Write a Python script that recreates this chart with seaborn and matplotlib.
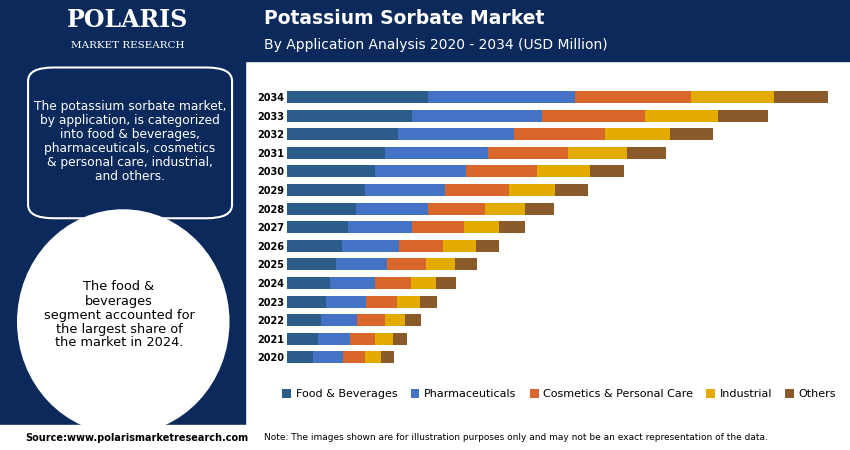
import matplotlib
matplotlib.use("Agg")
import matplotlib.pyplot as plt
import seaborn as sns
import pandas as pd
import numpy as np
from matplotlib.patches import FancyBboxPatch, Rectangle, Ellipse

years = [str(y) for y in range(2020, 2035)]
food = [26, 30, 33, 38, 42, 48, 54, 60, 68, 77, 87, 97, 110, 124, 140]
pharma = [29, 32, 36, 40, 45, 51, 57, 64, 72, 80, 90, 102, 115, 129, 146]
cosm = [22, 25, 28, 31, 36, 39, 44, 51, 56, 63, 71, 80, 90, 102, 115]
indus = [16, 18, 20, 23, 25, 28, 32, 35, 40, 46, 52, 58, 65, 73, 82]
others = [13, 14, 16, 17, 19, 22, 23, 26, 29, 32, 34, 39, 43, 49, 54]
series = ["Food & Beverages", "Pharmaceuticals", "Cosmetics & Personal Care", "Industrial", "Others"]
colors = ["#2c5d8a", "#4472c4", "#d9662a", "#e3ab00", "#8b5a2b"]

navy = "#0b2a5b"
fig = plt.figure(figsize=(8.5, 4.5), dpi=100)
fig.patch.set_facecolor("white")
fig.add_artist(Rectangle((0, 0.865), 1, 0.135, transform=fig.transFigure, color=navy, zorder=0))
fig.add_artist(Rectangle((0, 0.055), 0.288, 0.945, transform=fig.transFigure, color=navy, zorder=0))
fig.add_artist(Rectangle((0, 0), 1, 0.055, transform=fig.transFigure, color="white", zorder=0))
fig.add_artist(FancyBboxPatch((0.033, 0.515), 0.24, 0.335, boxstyle="round,pad=0,rounding_size=0.03",
                              transform=fig.transFigure, facecolor=navy, edgecolor="white", lw=1.5, zorder=1))
fig.add_artist(Ellipse((0.145, 0.285), 0.25, 0.5, transform=fig.transFigure, facecolor="white", zorder=1))

fig.text(0.15, 0.955, "POLARIS", color="white", fontsize=17, fontweight="bold", ha="center", va="center", family="DejaVu Serif")
fig.text(0.15, 0.9, "MARKET RESEARCH", color="white", fontsize=7.5, ha="center", va="center", family="DejaVu Serif")
fig.text(0.31, 0.96, "Potassium Sorbate Market", color="white", fontsize=13.5, fontweight="bold", va="center")
fig.text(0.31, 0.9, "By Application Analysis 2020 - 2034 (USD Million)", color="white", fontsize=10, va="center")
fig.text(0.153, 0.685, "The potassium sorbate market,\nby application, is categorized\ninto food & beverages,\npharmaceuticals, cosmetics\n& personal care, industrial,\nand others.",
         color="white", fontsize=8.8, ha="center", va="center", linespacing=1.1)
fig.text(0.14, 0.3, "The food &\nbeverages\nsegment accounted for\nthe largest share of\nthe market in 2024.",
         color="black", fontsize=9.3, ha="center", va="center", linespacing=1.1)
fig.text(0.03, 0.027, "Source:www.polarismarketresearch.com", fontsize=7, fontweight="bold", va="center")
fig.text(0.31, 0.027, "Note: The images shown are for illustration purposes only and may not be an exact representation of the data.", fontsize=6.5, va="center")

ax = fig.add_axes([0.338, 0.185, 0.64, 0.62])
df = pd.DataFrame({"Year": years, **dict(zip(series, [food, pharma, cosm, indus, others]))})
df = df.iloc[::-1].reset_index(drop=True)
left = np.zeros(len(df))
for s, c in zip(series, colors):
    sns.barplot(data=df, y="Year", x=s, orient="h", left=left, color=c, ax=ax, width=0.65,
                order=list(df["Year"]), label=s, saturation=1)
    left = left + df[s].to_numpy()
ax.set_xlim(0, 540)
ax.set_xlabel(""); ax.set_ylabel("")
ax.set_xticks([])
for sp in ax.spines.values():
    sp.set_visible(False)
ax.tick_params(axis="y", length=0, labelsize=7, pad=2)
for t in ax.get_yticklabels():
    t.set_fontweight("bold")
ax.legend(loc="upper center", bbox_to_anchor=(0.5, -0.045), ncol=5, frameon=False, fontsize=8,
          handlelength=0.8, handleheight=0.8, columnspacing=1.2, handletextpad=0.4)
fig.savefig("out.png", dpi=100)
